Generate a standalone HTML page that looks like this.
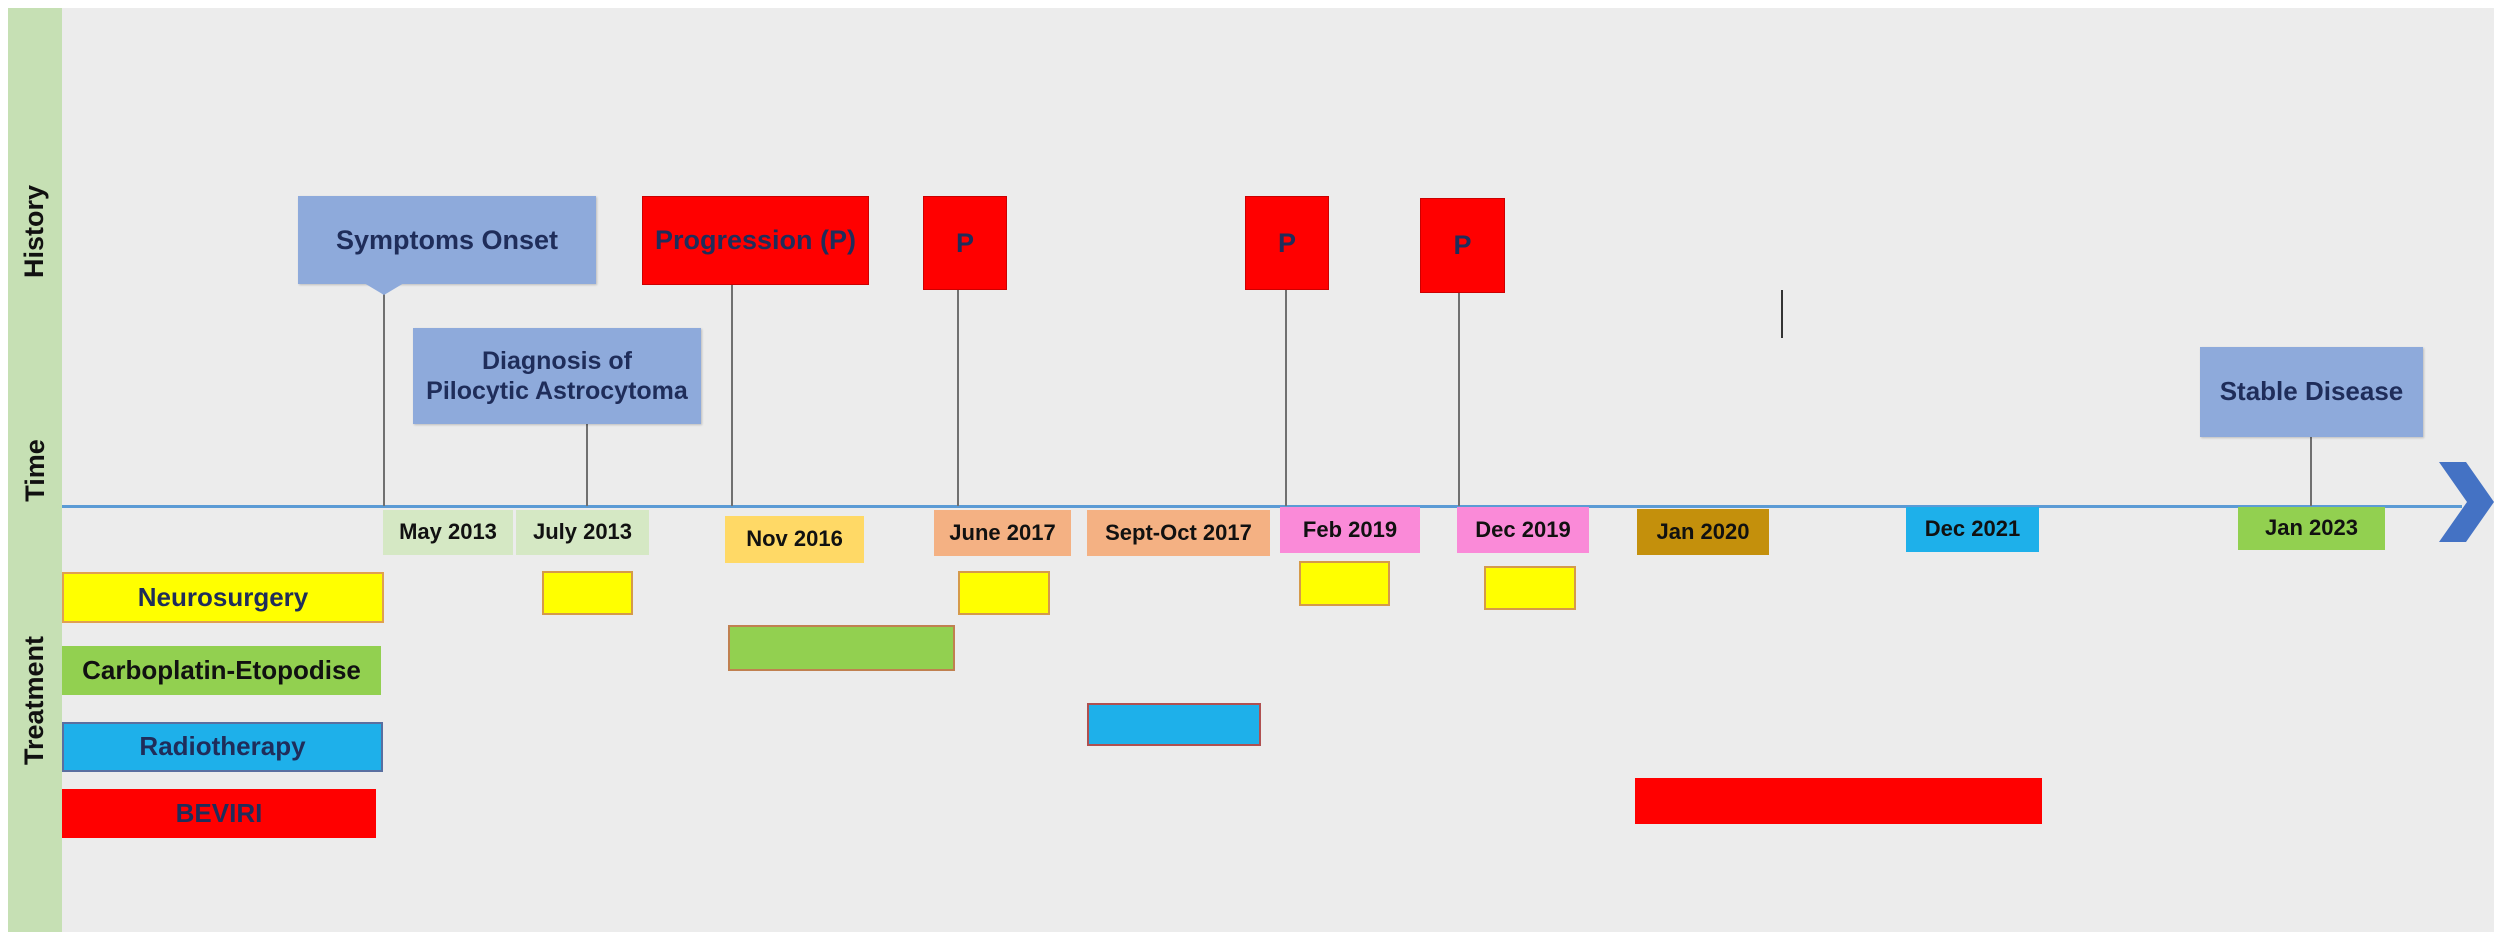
<!DOCTYPE html>
<html><head><meta charset="utf-8"><style>
body{margin:0;width:2500px;height:938px;background:#fff;position:relative;overflow:hidden;font-family:"Liberation Sans",Arial,sans-serif;font-weight:bold}
div{position:absolute;box-sizing:border-box}
.c{display:flex;align-items:center;justify-content:center;text-align:center;line-height:1.2}
.bl{background:#8eaadb;color:#1f2d5a;font-size:27px;box-shadow:1px 1px 2px rgba(0,0,0,.2)}
.rd{background:#ff0000;color:#1f2d5a;font-size:27px;border:1px solid #c00}
.ln{width:2px;background:#707070}
.dt{font-size:22px;color:#111}
.vt{left:8px;width:54px;display:flex;align-items:center;justify-content:center}
.vt span{transform:rotate(-90deg);white-space:nowrap;font-size:27px;color:#111}
.y{background:#ffff00;border:2px solid #d59a4a}
</style></head><body>
<div style="left:8px;top:8px;width:2486px;height:924px;background:#ececec"></div>
<div style="left:8px;top:8px;width:54px;height:924px;background:#c6e0b4"></div>
<div class="vt" style="top:181px;height:100px"><span>History</span></div>
<div class="vt" style="top:430px;height:80px"><span>Time</span></div>
<div class="vt" style="top:640px;height:120px"><span>Treatment</span></div>

<!-- axis -->
<div style="left:62px;top:505px;width:2400px;height:3px;background:#5b9bd5"></div>
<svg style="position:absolute;left:2436px;top:460px" width="60" height="84"><polygon points="3,2 30,2 58,42 30,82 3,82 31,42" fill="#4472c4"/></svg>

<!-- connectors -->
<div class="ln" style="left:383px;top:292px;height:214px"></div>
<div class="ln" style="left:586px;top:424px;height:82px"></div>
<div class="ln" style="left:731px;top:285px;height:221px"></div>
<div class="ln" style="left:957px;top:290px;height:216px"></div>
<div class="ln" style="left:1285px;top:290px;height:216px"></div>
<div class="ln" style="left:1458px;top:293px;height:213px"></div>
<div class="ln" style="left:1781px;top:290px;height:48px;background:#333"></div>
<div class="ln" style="left:2310px;top:437px;height:69px"></div>

<!-- history boxes -->
<div class="c bl" style="left:298px;top:196px;width:298px;height:88px">Symptoms Onset</div>
<svg style="position:absolute;left:364px;top:283px" width="40" height="14"><polygon points="0,0 40,0 20,12" fill="#8eaadb"/></svg>
<div class="c bl" style="left:413px;top:328px;width:288px;height:96px;font-size:25px">Diagnosis of<br>Pilocytic Astrocytoma</div>
<div class="c rd" style="left:642px;top:196px;width:227px;height:89px">Progression (P)</div>
<div class="c rd" style="left:923px;top:196px;width:84px;height:94px">P</div>
<div class="c rd" style="left:1245px;top:196px;width:84px;height:94px">P</div>
<div class="c rd" style="left:1420px;top:198px;width:85px;height:95px">P</div>
<div class="c bl" style="left:2200px;top:347px;width:223px;height:90px;font-size:26px">Stable Disease</div>

<!-- dates -->
<div class="c dt" style="left:383px;top:510px;width:130px;height:45px;background:#d5e8c4">May 2013</div>
<div class="c dt" style="left:516px;top:510px;width:133px;height:45px;background:#d5e8c4">July 2013</div>
<div class="c dt" style="left:725px;top:516px;width:139px;height:47px;background:#ffd966">Nov 2016</div>
<div class="c dt" style="left:934px;top:510px;width:137px;height:46px;background:#f4b183">June 2017</div>
<div class="c dt" style="left:1087px;top:510px;width:183px;height:46px;background:#f4b183">Sept-Oct 2017</div>
<div class="c dt" style="left:1280px;top:507px;width:140px;height:46px;background:#fa8ad8">Feb 2019</div>
<div class="c dt" style="left:1457px;top:507px;width:132px;height:46px;background:#fa8ad8">Dec 2019</div>
<div class="c dt" style="left:1637px;top:509px;width:132px;height:46px;background:#c4900c">Jan 2020</div>
<div class="c dt" style="left:1906px;top:507px;width:133px;height:45px;background:#1eb0ea">Dec 2021</div>
<div class="c dt" style="left:2238px;top:507px;width:147px;height:43px;background:#92d050">Jan 2023</div>

<!-- legend -->
<div class="c" style="left:62px;top:572px;width:322px;height:51px;background:#ffff00;border:2px solid #e0a050;color:#1f2d5a;font-size:26px">Neurosurgery</div>
<div class="c" style="left:62px;top:646px;width:319px;height:49px;background:#92d050;color:#111;font-size:26px">Carboplatin-Etopodise</div>
<div class="c" style="left:62px;top:722px;width:321px;height:50px;background:#1eb0ea;border:2px solid #5a6fa0;color:#1f2d5a;font-size:26px">Radiotherapy</div>
<div class="c" style="left:62px;top:789px;width:314px;height:49px;background:#ff0000;color:#1f2d5a;font-size:26px">BEVIRI</div>

<!-- treatment bars -->
<div class="y" style="left:542px;top:571px;width:91px;height:44px"></div>
<div class="y" style="left:958px;top:571px;width:92px;height:44px"></div>
<div class="y" style="left:1299px;top:561px;width:91px;height:45px"></div>
<div class="y" style="left:1484px;top:566px;width:92px;height:44px"></div>
<div style="left:728px;top:625px;width:227px;height:46px;background:#92d050;border:2px solid #c08050"></div>
<div style="left:1087px;top:703px;width:174px;height:43px;background:#1eb0ea;border:2px solid #b05050"></div>
<div style="left:1635px;top:778px;width:407px;height:46px;background:#ff0000"></div>
</body></html>
